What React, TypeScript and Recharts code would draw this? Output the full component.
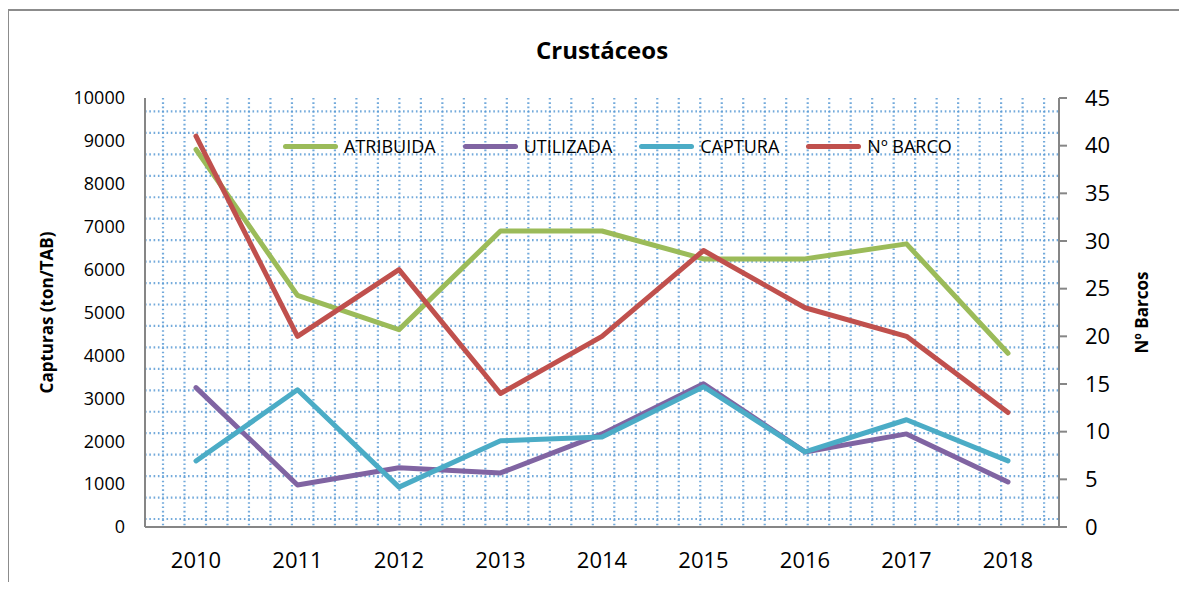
import { LineChart, Line, XAxis, YAxis, CartesianGrid } from 'recharts';

const years = ['2010', '2011', '2012', '2013', '2014', '2015', '2016', '2017', '2018'];
const atribuida = [8800, 5400, 4600, 6900, 6900, 6250, 6250, 6600, 4050];
const utilizada = [3250, 980, 1380, 1260, 2170, 3340, 1750, 2170, 1050];
const captura = [1540, 3200, 930, 2010, 2100, 3270, 1750, 2500, 1540];
const barcos = [41, 20, 27, 14, 20, 29, 23, 20, 12];

const leftTicks = [0, 1000, 2000, 3000, 4000, 5000, 6000, 7000, 8000, 9000, 10000];
const rightTicks = [0, 5, 10, 15, 20, 25, 30, 35, 40, 45];

const series = [
  { key: 'atribuida', name: 'ATRIBUIDA', color: '#9bbb59', axis: 'left' },
  { key: 'utilizada', name: 'UTILIZADA', color: '#8064a2', axis: 'left' },
  { key: 'captura', name: 'CAPTURA', color: '#4bacc6', axis: 'left' },
  { key: 'barcos', name: 'Nº BARCO', color: '#c0504d', axis: 'right' },
];

const data = years.map((year, i) => ({
  year,
  atribuida: atribuida[i],
  utilizada: utilizada[i],
  captura: captura[i],
  barcos: barcos[i],
}));

const FONT = '"Open Sans", sans-serif';
const AXIS = '#868686';

const vGrid = ({ offset }: any) => {
  const pts: number[] = [];
  for (let x = offset.left + 18; x < offset.left + offset.width - 8; x += 21.49) pts.push(x);
  return pts;
};

const hGrid = ({ offset }: any) => {
  const pts: number[] = [];
  const step = offset.height / 20;
  for (let y = offset.top + offset.height - 8; y > offset.top + 6; y -= step) pts.push(y);
  return pts;
};

// legend drawn as an overlay so it does not take space from the plot
const LegendBox = () => (
  <div
    style={{
      position: 'absolute',
      left: 275,
      top: 126,
      display: 'flex',
      alignItems: 'center',
      fontFamily: FONT,
      fontSize: 18,
      color: '#000',
      pointerEvents: 'none',
    }}
  >
    {series.map((s) => (
      <div key={s.key} style={{ display: 'flex', alignItems: 'center', marginRight: 27 }}>
        <span style={{ width: 55, height: 5, borderRadius: 3, background: s.color, display: 'inline-block', marginRight: 6 }} />
        <span>{s.name}</span>
      </div>
    ))}
  </div>
);

export default function App() {
  return (
    <div style={{ position: 'relative', width: 1171, height: 574, fontFamily: FONT }}>
      <div
        style={{
          position: 'absolute',
          left: -1,
          top: 1,
          width: 1179,
          height: 581,
          borderTop: '2px solid #8c8c8c',
          borderLeft: '2px solid #8c8c8c',
          boxSizing: 'border-box',
        }}
      />
      <div
        style={{
          position: 'absolute',
          left: 0,
          width: 1188,
          top: 25,
          textAlign: 'center',
          fontSize: 24,
          fontWeight: 700,
          color: '#000',
        }}
      >
        Crustáceos
      </div>
      <LineChart width={1171} height={574} data={data} margin={{ top: 90, right: 0, bottom: 0, left: 0 }}>
        <CartesianGrid
          stroke="#5b9bd5"
          strokeOpacity={0.85}
          strokeWidth={2.2}
          strokeDasharray="1.6 2.7"
          verticalCoordinatesGenerator={vGrid}
          horizontalCoordinatesGenerator={hGrid}
        />
        <XAxis
          dataKey="year"
          height={55}
          padding={{ left: 51, right: 51 }}
          axisLine={{ stroke: AXIS, strokeWidth: 2 }}
          tickLine={false}
          tickSize={0}
          tickMargin={25}
          tick={{ fill: '#000', fontSize: 22, fontFamily: FONT }}
        />
        <YAxis
          yAxisId="left"
          width={137}
          domain={[0, 10000]}
          ticks={leftTicks}
          interval={0}
          axisLine={{ stroke: AXIS, strokeWidth: 2 }}
          tickLine={false}
          tickSize={0}
          tickMargin={20}
          tick={{ fill: '#000', fontSize: 18, fontFamily: FONT }}
          label={{
            value: 'Capturas (ton/TAB)',
            angle: -90,
            position: 'insideLeft',
            offset: 39,
            style: { textAnchor: 'middle', fontSize: 17, fontWeight: 700, fill: '#000', fontFamily: FONT },
          }}
        />
        <YAxis
          yAxisId="right"
          orientation="right"
          width={120}
          domain={[0, 45]}
          ticks={rightTicks}
          interval={0}
          axisLine={{ stroke: AXIS, strokeWidth: 2 }}
          tickLine={{ stroke: AXIS, strokeWidth: 2 }}
          tickSize={8}
          tickMargin={18}
          tick={{ fill: '#000', fontSize: 22, fontFamily: FONT }}
          label={{
            value: 'Nº Barcos',
            angle: -90,
            position: 'insideRight',
            offset: 37,
            style: { textAnchor: 'middle', fontSize: 17, fontWeight: 700, fill: '#000', fontFamily: FONT },
          }}
        />
        {series.map((s) => (
          <Line
            key={s.key}
            yAxisId={s.axis}
            dataKey={s.key}
            name={s.name}
            stroke={s.color}
            strokeWidth={5}
            strokeLinecap="round"
            strokeLinejoin="round"
            dot={false}
            isAnimationActive={false}
          />
        ))}
      </LineChart>
      <LegendBox />
    </div>
  );
}
